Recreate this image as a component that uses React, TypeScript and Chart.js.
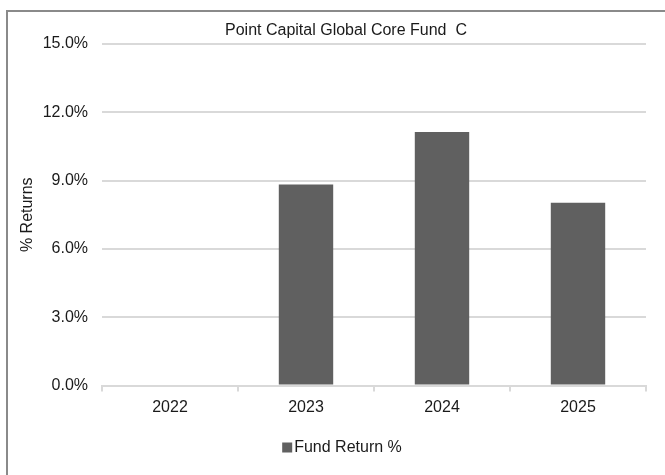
import React, { useEffect, useRef } from "react";
import { Chart, registerables } from "chart.js";

Chart.register(...registerables);

const TITLE = "Point Capital Global Core Fund  C";
const CATEGORIES = ["2022", "2023", "2024", "2025"];
const FUND_RETURNS = [0, 8.83, 11.14, 8.03];
const SERIES_LABEL = "Fund Return %";
const Y_AXIS_TITLE = "% Returns";
const Y_MIN = 0;
const Y_MAX = 15;
const Y_STEP = 3;

const FONT = "'Liberation Sans', Arial, sans-serif";
const FONT_SIZE = 16;
const BAR_COLOR = "#606060";
const GRID_COLOR = "#d9d9d9";
const TEXT_COLOR = "#1a1a1a";

const frameTitleLegend = {
  id: "frameTitleLegend",
  beforeDraw(chart: any) {
    const ctx = chart.ctx;
    ctx.save();
    ctx.fillStyle = "#ffffff";
    ctx.fillRect(0, 0, chart.width, chart.height);
    ctx.strokeStyle = "#8a8a8a";
    ctx.lineWidth = 2;
    ctx.strokeRect(7, 11, chart.width + 20, chart.height + 20);
    ctx.restore();
  },
  afterDraw(chart: any) {
    const ctx = chart.ctx;
    const area = chart.chartArea;
    const mid = (area.left + area.right) / 2;
    ctx.save();
    ctx.fillStyle = TEXT_COLOR;
    ctx.font = `${FONT_SIZE}px ${FONT}`;
    ctx.textAlign = "center";
    ctx.textBaseline = "middle";
    ctx.fillText(TITLE, mid - 28, area.top - 13);

    // legend
    const ds = chart.data.datasets[0];
    const label = ds.label as string;
    const tw = ctx.measureText(label).width;
    const box = 10;
    const gap = 2;
    const total = box + gap + tw;
    const x0 = mid - 32 - total / 2;
    const ly = area.bottom + 62;
    ctx.fillStyle = ds.backgroundColor as string;
    ctx.fillRect(x0, ly - box / 2, box, box);
    ctx.fillStyle = TEXT_COLOR;
    ctx.textAlign = "left";
    ctx.fillText(label, x0 + box + gap, ly);
    ctx.restore();
  },
};

export default function App() {
  const ref = useRef<HTMLCanvasElement | null>(null);

  useEffect(() => {
    if (!ref.current) return;
    const chart = new Chart(ref.current, {
      type: "bar",
      data: {
        labels: CATEGORIES,
        datasets: [
          {
            label: SERIES_LABEL,
            data: FUND_RETURNS,
            backgroundColor: BAR_COLOR,
            borderWidth: 0,
            barPercentage: 0.4,
            categoryPercentage: 1,
          },
        ],
      },
      options: {
        animation: false,
        responsive: false,
        maintainAspectRatio: false,
        layout: { padding: { left: 14, right: 19, top: 44, bottom: 59.5 } },
        plugins: {
          title: { display: false },
          tooltip: { enabled: false },
          legend: { display: false },
        },
        scales: {
          x: {
            grid: {
              display: true,
              offset: true,
              drawOnChartArea: false,
              drawTicks: true,
              tickLength: 6,
              color: GRID_COLOR,
              lineWidth: 2,
            },
            border: { display: true, color: GRID_COLOR, width: 2 },
            ticks: {
              font: { family: FONT, size: FONT_SIZE },
              color: TEXT_COLOR,
              padding: 6,
            },
            afterFit(scale: any) {
              scale.height = 30;
            },
          },
          y: {
            min: Y_MIN,
            max: Y_MAX,
            grid: {
              color: GRID_COLOR,
              lineWidth: 2,
              drawTicks: false,
            },
            border: { display: false },
            ticks: {
              stepSize: Y_STEP,
              padding: 14,
              font: { family: FONT, size: FONT_SIZE },
              color: TEXT_COLOR,
              callback: (v: any) => Number(v).toFixed(1) + "%",
            },
            title: {
              display: true,
              text: Y_AXIS_TITLE,
              font: { family: FONT, size: FONT_SIZE },
              color: TEXT_COLOR,
              padding: { top: 4, bottom: 0 },
            },
            afterFit(scale: any) {
              scale.width = 88;
            },
          },
        },
      },
      plugins: [frameTitleLegend],
    });
    return () => chart.destroy();
  }, []);

  return (
    <div style={{ position: "fixed", left: 0, top: 0, width: 665, height: 475, background: "#fff" }}>
      <canvas ref={ref} width={665} height={475} style={{ display: "block", width: 665, height: 475 }} />
    </div>
  );
}
